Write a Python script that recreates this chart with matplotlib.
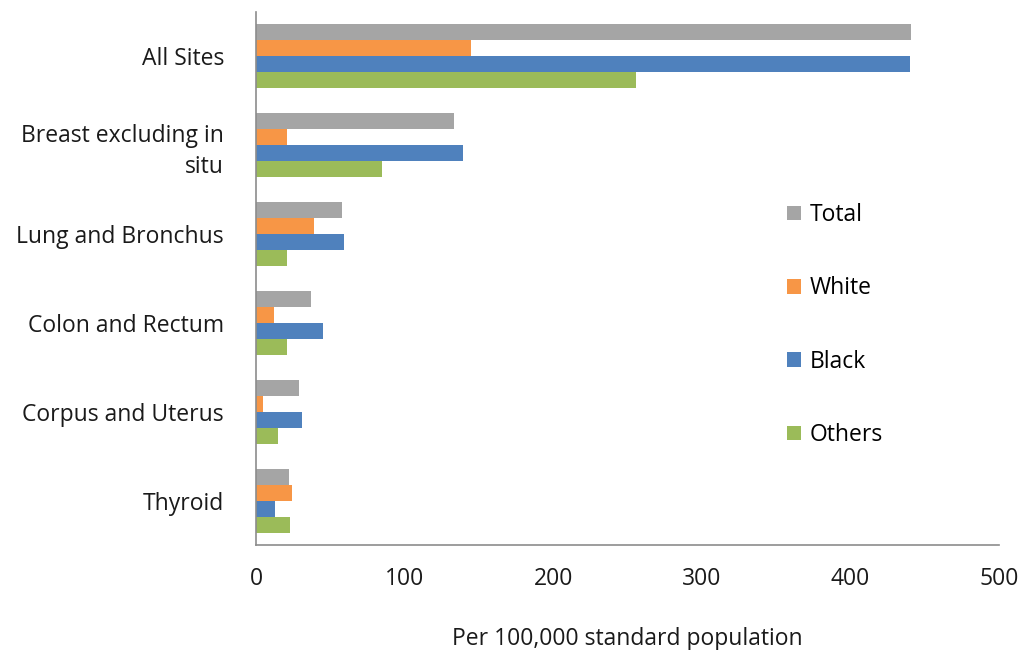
import numpy as np
import matplotlib.pyplot as plt

plt.rcParams['font.family'] = ['Open Sans', 'DejaVu Sans']

sites = ["All Sites", "Breast excluding in\nsitu", "Lung and Bronchus",
         "Colon and Rectum", "Corpus and Uterus", "Thyroid"]
series = ["Total", "White", "Black", "Others"]
total = [441, 133, 58, 37, 29, 22]
white = [145, 21, 39, 12, 5, 24]
black = [440, 139, 59, 45, 31, 13]
others = [256, 85, 21, 21, 15, 23]
colors = ["#A5A5A5", "#F79646", "#4F81BD", "#9BBB59"]

fig = plt.figure(figsize=(10.21, 6.5), dpi=100)
ax = fig.add_axes([0.2507, 0.1615, 0.7278, 0.82])

y = np.arange(len(sites))
h = 0.18
for i, (name, vals) in enumerate(zip(series, [total, white, black, others])):
    ax.barh(y + (i - 1.5) * h, vals, height=h, color=colors[i], label=name)

fs = 16.5
ax.set_ylim(len(sites) - 0.5, -0.5)
ax.set_xlim(0, 500)
ax.set_xticks([0, 100, 200, 300, 400, 500])
ax.set_yticks(y)
ax.set_yticklabels(sites, fontsize=fs, color="#1a1a1a", linespacing=1.35)
ax.tick_params(axis='x', labelsize=fs, colors="#1a1a1a", length=0, pad=16)
ax.tick_params(axis='y', length=0, pad=23)

for s in ["top", "right"]:
    ax.spines[s].set_visible(False)
ax.spines["left"].set_color("#8c8c8c")
ax.spines["bottom"].set_color("#8c8c8c")
ax.spines["left"].set_linewidth(1.2)
ax.spines["bottom"].set_linewidth(1.2)

ax.set_xlabel("Per 100,000 standard population", fontsize=fs, color="#1a1a1a", labelpad=26)

leg = ax.legend(loc="upper left", bbox_to_anchor=(0.687, 0.68), frameon=False,
                fontsize=fs, labelspacing=2.15, handlelength=0.6, handleheight=0.6,
                handletextpad=0.4)

fig.savefig("out.png", dpi=100)
